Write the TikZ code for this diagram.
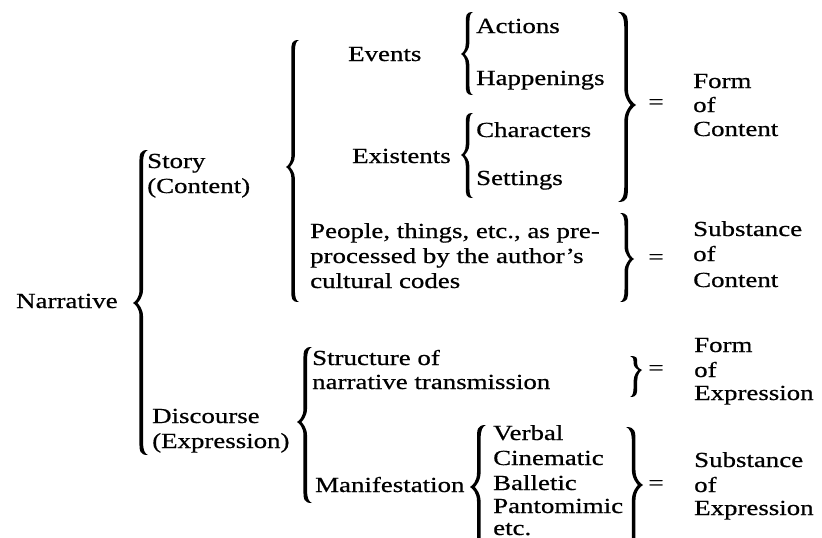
\documentclass[tikz,border=0pt]{standalone}
\usepackage{fontspec}
\setmainfont{Liberation Serif}[FakeStretch=1.25,FakeBold=0.6]
\newcommand\bracefill[6]{% dir, xcusp, ytop, ymid, ybot, width
  \pgfmathsetmacro\bw{#6}%
  \pgfmathsetmacro\bs{0.55*#6}%
  \pgfmathsetmacro\bl{\bs-1.8}%
  \pgfmathsetmacro\br{\bs+1.8}%
  \pgfmathsetmacro\bn{0.3*#6}%
  \pgfmathsetmacro\rU{min(0.9*#6,(#4-#3)/2.2)}%
  \pgfmathsetmacro\rL{min(0.9*#6,(#5-#4)/2.2)}%
  \begin{scope}[shift={(#2,0)},xscale=#1]
  \fill (\bw,#3)
    .. controls (\bl,#3) and (\bl,#3+0.3*\rU) .. (\bl,#3+\rU)
    -- (\bl,#4-\rU)
    .. controls (\bl,#4-0.35*\rU) and (0.25*\bs,#4-0.1*\rU) .. (0,#4)
    .. controls (0.25*\bs,#4+0.1*\rL) and (\bl,#4+0.35*\rL) .. (\bl,#4+\rL)
    -- (\bl,#5-\rL)
    .. controls (\bl,#5-0.3*\rL) and (\bl,#5) .. (\bw,#5)
    .. controls (0.5*\bs+0.5*\bw,#5-0.1*\rL) and (\br,#5-0.35*\rL) .. (\br,#5-\rL)
    -- (\br,#4+\rL)
    .. controls (\br,#4+0.4*\rL) and (0.6*\bs,#4+0.05*\rL) .. (\bn,#4)
    .. controls (0.6*\bs,#4-0.05*\rU) and (\br,#4-0.4*\rU) .. (\br,#4-\rU)
    -- (\br,#3+\rU)
    .. controls (\br,#3+0.35*\rU) and (0.5*\bs+0.5*\bw,#3+0.1*\rU) .. (\bw,#3)
    -- cycle;
  \end{scope}}
\tikzset{
  txt/.style={inner sep=0pt, anchor=base west, font=\fontsize{21.5}{24}\selectfont},
  eqs/.style={inner sep=0pt, anchor=center, font=\fontsize{21.5}{24}\selectfont},
}
\begin{document}
\begin{tikzpicture}[x=1pt,y=-1pt]
\useasboundingbox (0,0) rectangle (822,538);
\clip (0,0) rectangle (822,538);
% level 0 and 1
\node[txt] (narr) at (16,308) {Narrative};
\node[txt] (story1) at (147,168) {Story};
\node[txt] (story2) at (147,193) {(Content)};
\node[txt] (disc1) at (152,423) {Discourse};
\node[txt] (disc2) at (152,448) {(Expression)};
% story branch
\node[txt] (events) at (348,61) {Events};
\node[txt] (exist) at (352,163) {Existents};
\node[txt] (act) at (476,33) {Actions};
\node[txt] (hap) at (476,85) {Happenings};
\node[txt] (char) at (476,137) {Characters};
\node[txt] (sett) at (476,185) {Settings};
\node[txt] (peo1) at (310,238) {People, things, etc., as pre-};
\node[txt] (peo2) at (310,263) {processed by the author’s};
\node[txt] (peo3) at (310,288) {cultural codes};
% discourse branch
\node[txt] (str1) at (312,365) {Structure of};
\node[txt] (str2) at (312,389) {narrative transmission};
\node[txt] (man) at (315,492) {Manifestation};
\node[txt] (v1) at (493,440) {Verbal};
\node[txt] (v2) at (493,465) {Cinematic};
\node[txt] (v3) at (493,490) {Balletic};
\node[txt] (v4) at (493,513) {Pantomimic};
\node[txt] (v5) at (493,535) {etc.};
% right column
\node[txt] (fc1) at (693,88) {Form};
\node[txt] (fc2) at (693,112) {of};
\node[txt] (fc3) at (693,136) {Content};
\node[txt] (sc1) at (693,236) {Substance};
\node[txt] (sc2) at (693,261) {of};
\node[txt] (sc3) at (693,287) {Content};
\node[txt] (fe1) at (694,352) {Form};
\node[txt] (fe2) at (694,377) {of};
\node[txt] (fe3) at (694,400) {Expression};
\node[txt] (se1) at (694,467) {Substance};
\node[txt] (se2) at (694,492) {of};
\node[txt] (se3) at (694,515) {Expression};
\node[eqs] (eq1) at (656,104) {=};
\node[eqs] (eq2) at (656,259) {=};
\node[eqs] (eq3) at (656,370) {=};
\node[eqs] (eq4) at (656,485) {=};
% opening braces
\bracefill{1}{133}{150}{303}{455}{15}
\bracefill{1}{286}{40}{167}{302}{13}
\bracefill{1}{297}{347}{422}{503}{15}
\bracefill{1}{461}{12}{54}{95}{12}
\bracefill{1}{461}{113}{155}{198}{12}
\bracefill{1}{470}{425}{487}{552}{16}
% closing braces
\bracefill{-1}{636}{12}{105}{202}{18}
\bracefill{-1}{634}{213}{259}{302}{14}
\bracefill{-1}{642}{356}{370}{397}{12}
\bracefill{-1}{643}{427}{485}{550}{17}
\end{tikzpicture}
\end{document}
